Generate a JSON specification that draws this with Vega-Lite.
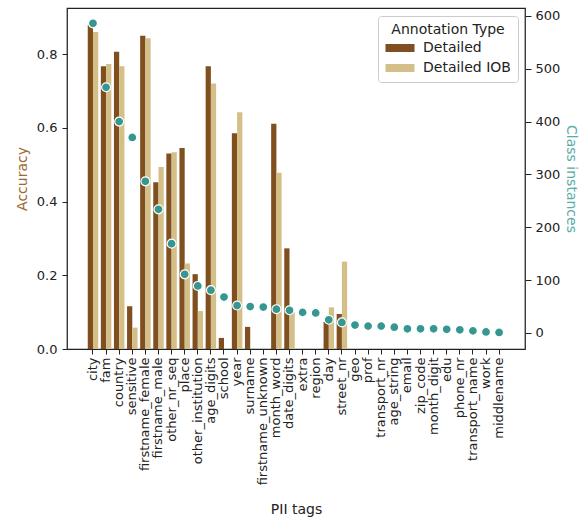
{
  "$schema": "https://vega.github.io/schema/vega-lite/v6.json",
  "width": 458,
  "height": 341,
  "autosize": {"type": "none"},
  "padding": {"left": 67, "top": 8, "right": 57, "bottom": 168},
  "config": {
    "font": "DejaVu Sans",
    "view": {"stroke": "#222", "strokeWidth": 1.25},
    "axis": {
      "grid": false,
      "domain": false,
      "tickColor": "#222",
      "labelColor": "#222",
      "titleColor": "#222",
      "labelFont": "DejaVu Sans",
      "titleFont": "DejaVu Sans",
      "titleFontWeight": "normal",
      "labelFontSize": 13,
      "titleFontSize": 14
    }
  },
  "datasets": {
    "acc": [
      {"tag": "city", "type": "Detailed", "accuracy": 0.879}, {"tag": "city", "type": "Detailed IOB", "accuracy": 0.860},
      {"tag": "fam", "type": "Detailed", "accuracy": 0.767}, {"tag": "fam", "type": "Detailed IOB", "accuracy": 0.773},
      {"tag": "country", "type": "Detailed", "accuracy": 0.806}, {"tag": "country", "type": "Detailed IOB", "accuracy": 0.767},
      {"tag": "sensitive", "type": "Detailed", "accuracy": 0.116}, {"tag": "sensitive", "type": "Detailed IOB", "accuracy": 0.058},
      {"tag": "firstname_female", "type": "Detailed", "accuracy": 0.850}, {"tag": "firstname_female", "type": "Detailed IOB", "accuracy": 0.843},
      {"tag": "firstname_male", "type": "Detailed", "accuracy": 0.452}, {"tag": "firstname_male", "type": "Detailed IOB", "accuracy": 0.494},
      {"tag": "other_nr_seq", "type": "Detailed", "accuracy": 0.530}, {"tag": "other_nr_seq", "type": "Detailed IOB", "accuracy": 0.534},
      {"tag": "place", "type": "Detailed", "accuracy": 0.545}, {"tag": "place", "type": "Detailed IOB", "accuracy": 0.232},
      {"tag": "other_institution", "type": "Detailed", "accuracy": 0.203}, {"tag": "other_institution", "type": "Detailed IOB", "accuracy": 0.103},
      {"tag": "age_digits", "type": "Detailed", "accuracy": 0.767}, {"tag": "age_digits", "type": "Detailed IOB", "accuracy": 0.720},
      {"tag": "school", "type": "Detailed", "accuracy": 0.030}, {"tag": "school", "type": "Detailed IOB", "accuracy": 0.0},
      {"tag": "year", "type": "Detailed", "accuracy": 0.585}, {"tag": "year", "type": "Detailed IOB", "accuracy": 0.642},
      {"tag": "surname", "type": "Detailed", "accuracy": 0.060}, {"tag": "surname", "type": "Detailed IOB", "accuracy": 0.0},
      {"tag": "firstname_unknown", "type": "Detailed", "accuracy": 0.0}, {"tag": "firstname_unknown", "type": "Detailed IOB", "accuracy": 0.0},
      {"tag": "month_word", "type": "Detailed", "accuracy": 0.611}, {"tag": "month_word", "type": "Detailed IOB", "accuracy": 0.478},
      {"tag": "date_digits", "type": "Detailed", "accuracy": 0.273}, {"tag": "date_digits", "type": "Detailed IOB", "accuracy": 0.10},
      {"tag": "extra", "type": "Detailed", "accuracy": 0.0}, {"tag": "extra", "type": "Detailed IOB", "accuracy": 0.0},
      {"tag": "region", "type": "Detailed", "accuracy": 0.0}, {"tag": "region", "type": "Detailed IOB", "accuracy": 0.0},
      {"tag": "day", "type": "Detailed", "accuracy": 0.074}, {"tag": "day", "type": "Detailed IOB", "accuracy": 0.113},
      {"tag": "street_nr", "type": "Detailed", "accuracy": 0.095}, {"tag": "street_nr", "type": "Detailed IOB", "accuracy": 0.237}
    ],
    "counts": [
      {"tag": "city", "instances": 586},
      {"tag": "fam", "instances": 465},
      {"tag": "country", "instances": 400},
      {"tag": "sensitive", "instances": 370},
      {"tag": "firstname_female", "instances": 287},
      {"tag": "firstname_male", "instances": 234},
      {"tag": "other_nr_seq", "instances": 169},
      {"tag": "place", "instances": 111},
      {"tag": "other_institution", "instances": 89},
      {"tag": "age_digits", "instances": 81},
      {"tag": "school", "instances": 68},
      {"tag": "year", "instances": 52},
      {"tag": "surname", "instances": 50},
      {"tag": "firstname_unknown", "instances": 49},
      {"tag": "month_word", "instances": 45},
      {"tag": "date_digits", "instances": 43},
      {"tag": "extra", "instances": 39},
      {"tag": "region", "instances": 38},
      {"tag": "day", "instances": 25},
      {"tag": "street_nr", "instances": 20},
      {"tag": "geo", "instances": 15},
      {"tag": "prof", "instances": 13},
      {"tag": "transport_nr", "instances": 13},
      {"tag": "age_string", "instances": 11},
      {"tag": "email", "instances": 8},
      {"tag": "zip_code", "instances": 8},
      {"tag": "month_digit", "instances": 8},
      {"tag": "edu", "instances": 7},
      {"tag": "phone_nr", "instances": 6},
      {"tag": "transport_name", "instances": 4},
      {"tag": "work", "instances": 2},
      {"tag": "middlename", "instances": 1}
    ]
  },
  "layer": [
    {
      "data": {"name": "acc"},
      "mark": {"type": "bar"},
      "encoding": {
        "x": {
          "field": "tag",
          "type": "nominal",
          "scale": {
            "domain": ["city", "fam", "country", "sensitive", "firstname_female", "firstname_male", "other_nr_seq", "place", "other_institution", "age_digits", "school", "year", "surname", "firstname_unknown", "month_word", "date_digits", "extra", "region", "day", "street_nr", "geo", "prof", "transport_nr", "age_string", "email", "zip_code", "month_digit", "edu", "phone_nr", "transport_name", "work", "middlename"],
            "range": [14.2, 443.9],
            "paddingInner": 0.2,
            "paddingOuter": 0.5
          },
          "axis": {
            "title": "PII tags",
            "labelAngle": -90,
            "tickSize": 5,
            "labelPadding": 3,
            "titleY": 164,
            "titleBaseline": "alphabetic"
          }
        },
        "xOffset": {"field": "type", "type": "nominal", "scale": {"domain": ["Detailed", "Detailed IOB"]}},
        "y": {
          "field": "accuracy",
          "type": "quantitative",
          "scale": {"domain": [0, 0.925], "nice": false},
          "axis": {
            "orient": "left",
            "title": "Accuracy",
            "titleColor": "#9c6a2e",
            "values": [0, 0.2, 0.4, 0.6, 0.8],
            "format": ".1f",
            "tickSize": 5,
            "labelPadding": 5,
            "titlePadding": 7
          }
        },
        "color": {
          "field": "type",
          "type": "nominal",
          "scale": {"domain": ["Detailed", "Detailed IOB"], "range": ["#7f4f1f", "#d5bf88"]},
          "legend": {
            "title": "Annotation Type",
            "orient": "none",
            "legendX": 311,
            "legendY": 8,
            "titleFontSize": 14,
            "titleFontWeight": "normal",
            "titleColor": "#222",
            "labelColor": "#222",
            "labelFontSize": 14,
            "titleAnchor": "middle",
            "symbolType": "M-2.9,-0.8H2.9V0.8H-2.9Z",
            "symbolSize": 100,
            "symbolOffset": 8,
            "symbolStrokeWidth": 0,
            "symbolOpacity": 1,
            "strokeColor": "#cccccc",
            "fillColor": "white",
            "padding": 7,
            "cornerRadius": 3,
            "labelOffset": 16,
            "rowPadding": 6,
            "titlePadding": 4
          }
        }
      }
    },
    {
      "data": {"name": "counts"},
      "mark": {"type": "circle", "size": 80, "color": "#35978f", "stroke": "white", "strokeWidth": 1.2, "opacity": 1},
      "encoding": {
        "x": {"field": "tag", "type": "nominal"},
        "y": {
          "field": "instances",
          "type": "quantitative",
          "scale": {"domain": [-30.3, 615], "nice": false},
          "axis": {
            "orient": "right",
            "title": "Class instances",
            "titleColor": "#5aada5",
            "values": [0, 100, 200, 300, 400, 500, 600],
            "tickSize": 6,
            "labelPadding": 4,
            "titlePadding": 4
          }
        }
      }
    }
  ],
  "resolve": {"scale": {"y": "independent"}}
}
